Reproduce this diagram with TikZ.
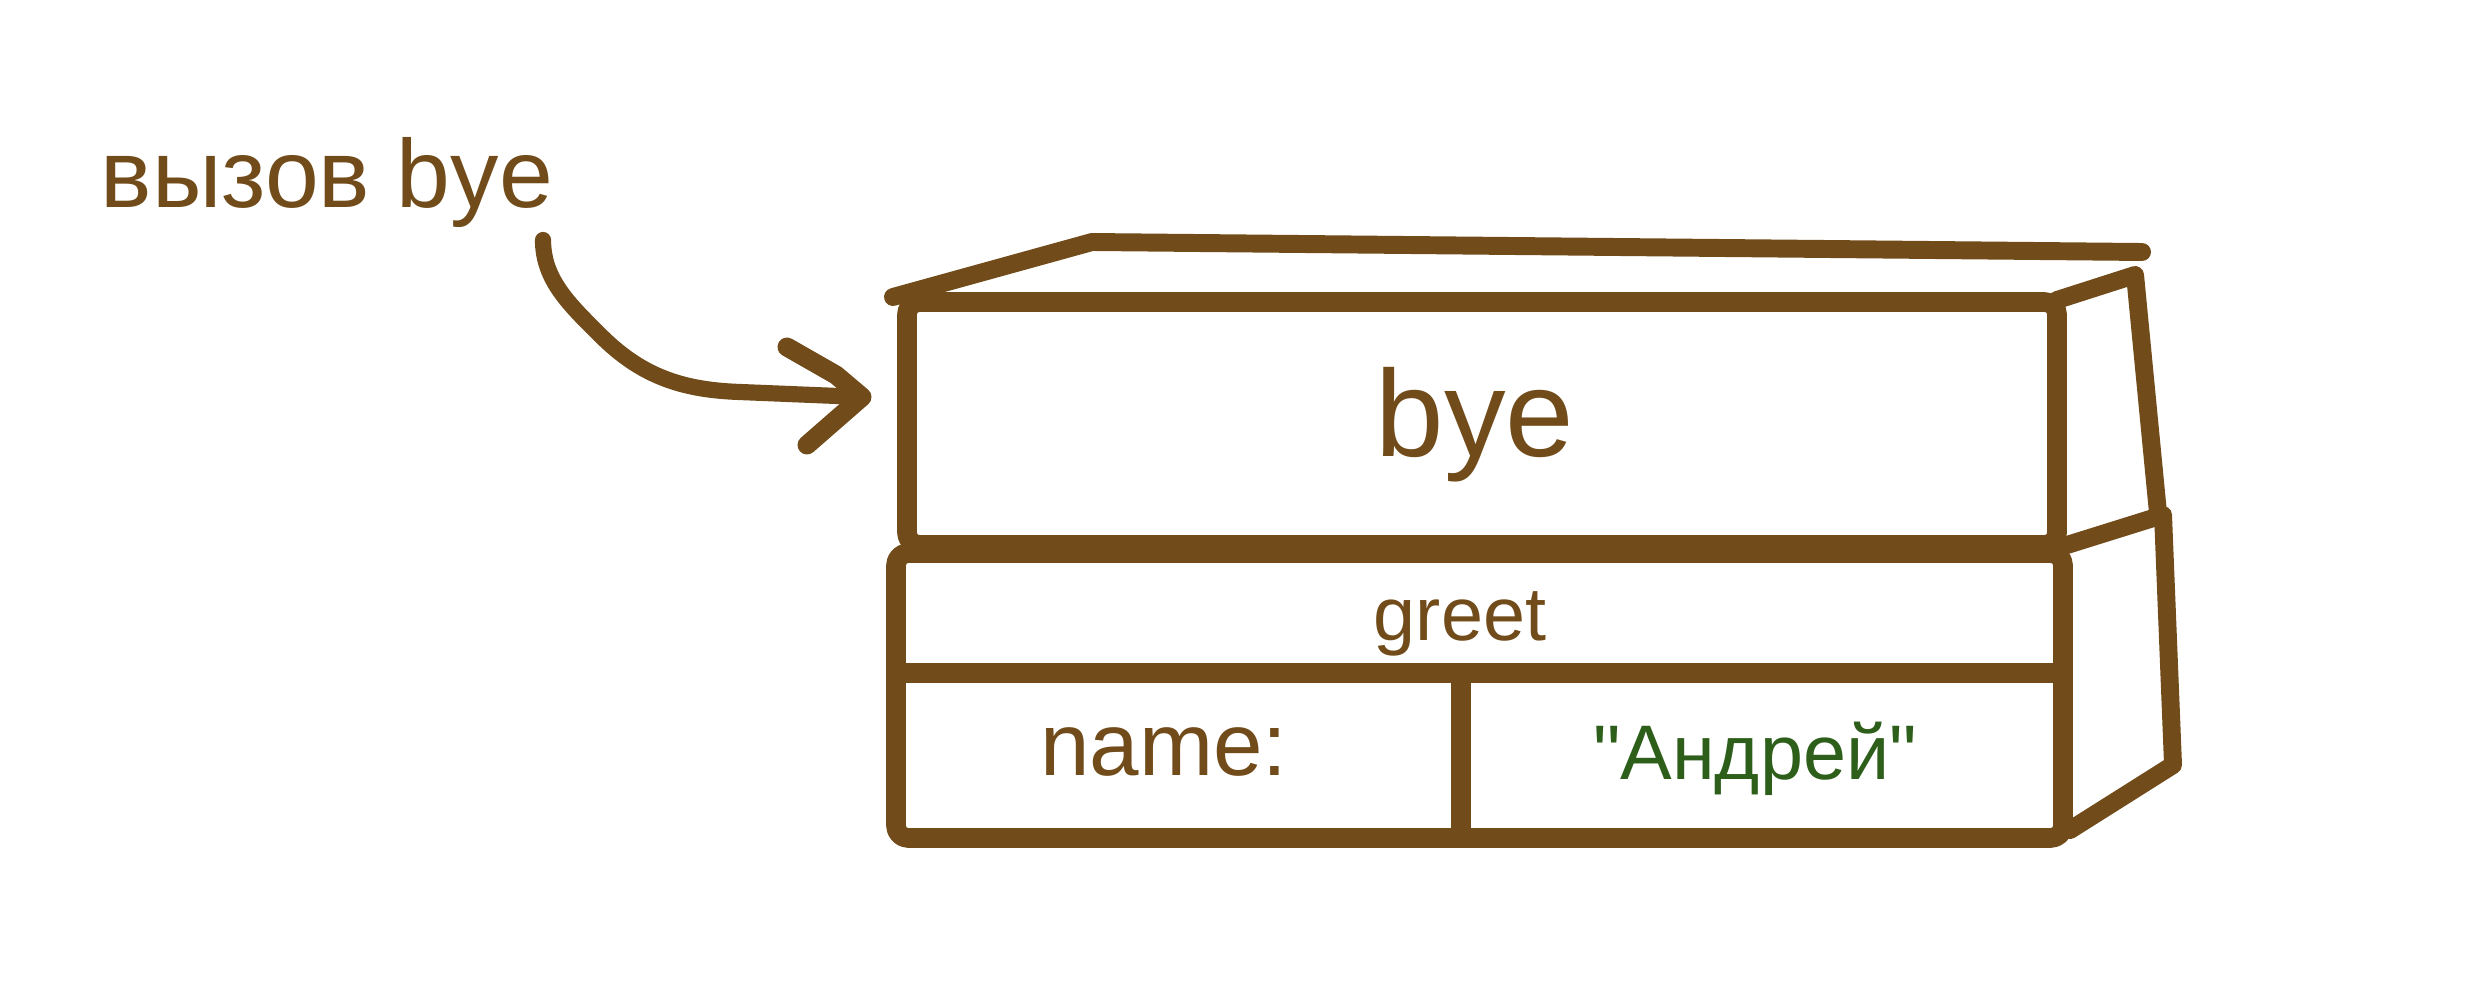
\documentclass[tikz,border=0pt]{standalone}
\usepackage{fontspec}
\setmainfont{Liberation Sans}
% same face without the TeX quote mapping, so " stays straight
\newfontfamily\rawsans{Liberation Sans}
\definecolor{bark}{HTML}{714C1A}
\definecolor{leaf}{HTML}{2D5F1B}
\begin{document}
\begin{tikzpicture}[x=0.01cm, y=-0.01cm,
  stroke/.style={draw=bark, line width=5.6pt, line cap=round, line join=round},
  thinstroke/.style={stroke, line width=5.1pt},
  frame/.style={stroke, rounded corners=3.5pt},
  divider/.style={stroke, line cap=butt},
  pen/.style={stroke, line width=4.6pt},
  label/.style={inner sep=0pt, anchor=base, text=bark},
]
\useasboundingbox[fill=white] (0,0) rectangle (2486,994);

% front faces of the two stack frames
\draw[frame] (907,302) rectangle (2057,545);
\draw[frame] (896,553) rectangle (2063,838);

% cells of the lower frame
\draw[divider] (896,673) -- (2063,673);
\draw[divider] (1461,673) -- (1461,838);

% top and side faces drawn in perspective
\draw[thinstroke] (893,297) -- (1092,242) -- (2142,252);
\draw[thinstroke] (2057,300) -- (2135,275) -- (2158,513);
\draw[thinstroke] (2067,545) -- (2163,515) -- (2173,765) -- (2070,830);

% texts
\node[label, font=\fontsize{27.5}{30}\selectfont] (call) at (327,207) {вызов bye};
\node[label, font=\fontsize{35}{40}\selectfont] (byetxt) at (1475,456) {bye};
\node[label, font=\fontsize{21.5}{24}\selectfont] (greettxt) at (1460,640) {greet};
\node[label, font=\fontsize{25.3}{28}\selectfont] (nametxt) at (1164,775) {name:};
\node[label, text=leaf, font=\rawsans\fontsize{22}{26}\selectfont] (valtxt) at (1755,779) {"Андрей"};

% hand-drawn arrow from the caption to the frame
\coordinate (arrS) at (543,240);
\coordinate (arrT) at (862,397);
\draw[pen] (arrS) .. controls (543,280) and (570,305) .. (600,335)
  .. controls (640,375) and (680,390) .. (740,392) -- (arrT);
\draw[pen, line width=5.4pt] (787,347) -- (836,375) -- (arrT) -- (807,445);
\end{tikzpicture}
\end{document}
